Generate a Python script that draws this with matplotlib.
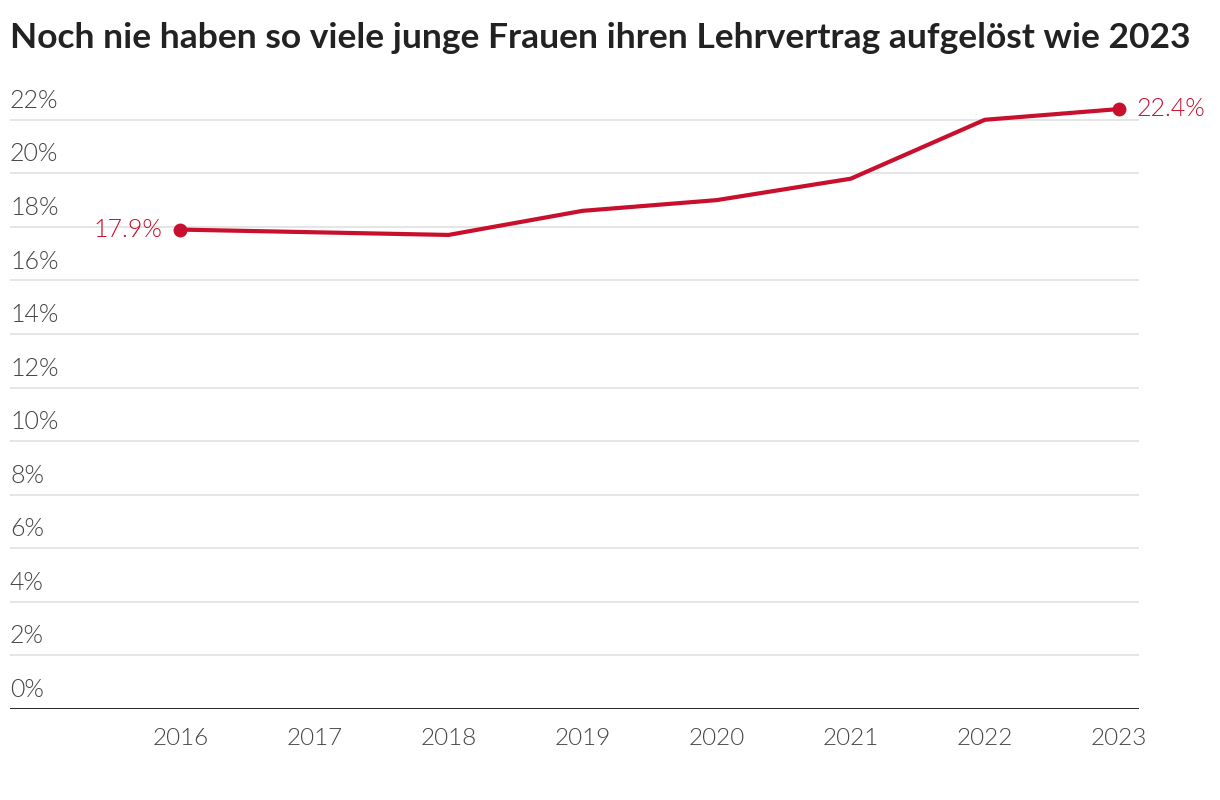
import matplotlib

matplotlib.use("Agg")
import matplotlib.pyplot as plt
import matplotlib.transforms as mtransforms

years = [2016, 2017, 2018, 2019, 2020, 2021, 2022, 2023]
share = [17.9, 17.8, 17.7, 18.6, 19.0, 19.8, 22.0, 22.4]
yticks = [0, 2, 4, 6, 8, 10, 12, 14, 16, 18, 20, 22]
title = "Noch nie haben so viele junge Frauen ihren Lehrvertrag aufgelöst wie 2023"

RED = "#c8102e"
GREY = "#444444"
plt.rcParams["font.family"] = ["Lato", "DejaVu Sans"]
LIGHT = 300

fig = plt.figure(figsize=(12.2, 8), dpi=100)
ax = fig.add_axes([10 / 1220, 91 / 800, 1129 / 1220, 616 / 800])
ax.set_xlim(2014.73, 2023.15)
ax.set_ylim(0, 23)

for t in yticks[1:]:
    ax.axhline(t, color="#e3e3e3", lw=1.3, zorder=1)
ax.axhline(0, color="#111111", lw=2, zorder=3)

ax.plot(years, share, color=RED, lw=3, zorder=4, solid_capstyle="round")
ax.plot([years[0], years[-1]], [share[0], share[-1]], "o", color=RED, ms=9, zorder=5)

ax.annotate(f"{share[0]:.1f}%", (years[0], share[0]), xytext=(-13, 0),
            textcoords="offset points", ha="right", va="center",
            color=RED, fontsize=18, fontweight=LIGHT)
ax.annotate(f"{share[-1]:.1f}%", (years[-1], share[-1]), xytext=(13, 0),
            textcoords="offset points", ha="left", va="center",
            color=RED, fontsize=18, fontweight=LIGHT, annotation_clip=False)

# y labels sit above their gridlines, left aligned
off = mtransforms.offset_copy(ax.get_yaxis_transform(), fig=fig, x=0, y=5, units="points")
for t in yticks:
    ax.text(0, t, f"{t}%", transform=off, ha="left", va="bottom",
            color=GREY, fontsize=18, fontweight=LIGHT)

ax.set_xticks(years)
ax.set_xticklabels([str(y) for y in years])
ax.tick_params(axis="x", length=0, pad=14, labelsize=17.5, labelcolor=GREY)
for lab in ax.get_xticklabels():
    lab.set_fontweight(LIGHT)
ax.set_yticks([])
for s in ax.spines.values():
    s.set_visible(False)

fig.text(10 / 1220, 1 - 38 / 800, title, ha="left", va="center",
         fontsize=25.5, fontweight="bold", color="#222222")

fig.savefig("out.png", dpi=100)
